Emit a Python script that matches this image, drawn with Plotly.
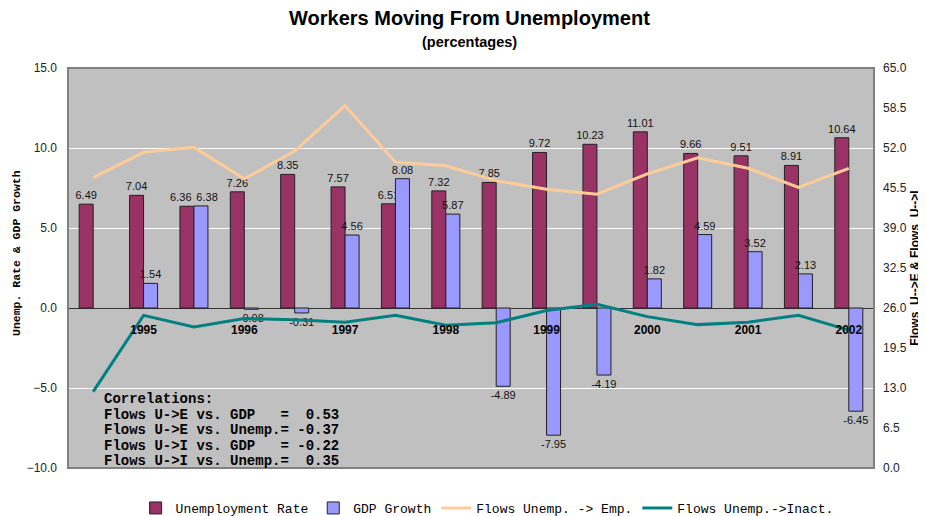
import plotly.graph_objects as go

# ---- data ----
unemployment_rate = [6.49, 7.04, 6.36, 7.26, 8.35, 7.57, 6.51, 7.32,
                     7.85, 9.72, 10.23, 11.01, 9.66, 9.51, 8.91, 10.64]
gdp_growth = [None, 1.54, 6.38, -0.08, -0.31, 4.56, 8.08, 5.87,
              -4.89, -7.95, -4.19, 1.82, 4.59, 3.52, 2.13, -6.45]
flows_u_to_e = [47.2, 51.3, 52.1, 47.0, 51.5, 58.9, 49.7, 49.1,
                46.7, 45.3, 44.5, 47.8, 50.4, 48.7, 45.6, 48.7]
flows_u_to_i = [12.4, 24.8, 22.9, 24.3, 24.1, 23.7, 24.8, 23.2,
                23.6, 25.6, 26.6, 24.6, 23.3, 23.7, 24.8, 22.4]
period_index = list(range(len(unemployment_rate)))
year_labels = ["1995", "1996", "1997", "1998", "1999", "2000", "2001", "2002"]
year_tick_index = [1, 3, 5, 7, 9, 11, 13, 15]
correlation_lines = [
    "Correlations:",
    "Flows U->E vs. GDP   =  0.53",
    "Flows U->E vs. Unemp.= -0.37",
    "Flows U->I vs. GDP   = -0.22",
    "Flows U->I vs. Unemp.=  0.35",
]

MONO = "Courier New, Liberation Mono, monospace"
SANS = "Arial, Liberation Sans, sans-serif"
NB = "\u00a0" * 4

# value labels; when two neighbouring labels sit at nearly the same height,
# nudge them apart (as the original chart does) by padding with spaces
unemp_text, gdp_text = [], []
for u, g in zip(unemployment_rate, gdp_growth):
    close = g is not None and g > 0 and abs(u - g) < 0.5
    unemp_text.append(f"{u:.2f}" + (NB if close else ""))
    gdp_text.append("" if g is None else (NB if close else "") + f"{g:.2f}")

fig = go.Figure()
fig.add_trace(go.Bar(
    x=period_index, y=unemployment_rate, name="Unemployment Rate",
    marker=dict(color="#993366", line=dict(color="#222222", width=1)),
    text=unemp_text, texttemplate="%{text}", textposition="outside",
    constraintext="none", hoverinfo="x+y",
    textfont=dict(family=SANS, size=11, color="#111111"), cliponaxis=False,
))
fig.add_trace(go.Bar(
    x=period_index, y=gdp_growth, name="GDP Growth",
    marker=dict(color="#9999FF", line=dict(color="#222222", width=1)),
    text=gdp_text, texttemplate="%{text}", textposition="outside",
    constraintext="none", hoverinfo="x+y",
    textfont=dict(family=SANS, size=11, color="#111111"), cliponaxis=False,
))
fig.add_trace(go.Scatter(
    x=period_index, y=flows_u_to_e, name="Flows Unemp. -> Emp.", yaxis="y2",
    mode="lines", line=dict(color="#FFCC99", width=3),
))
fig.add_trace(go.Scatter(
    x=period_index, y=flows_u_to_i, name="Flows Unemp.->Inact.", yaxis="y2",
    mode="lines", line=dict(color="#008080", width=3),
))

annotations = [
    dict(text="<b>Workers Moving From Unemployment</b>", xref="paper", yref="paper",
         x=0.498, y=1.125, xanchor="center", yanchor="middle", showarrow=False,
         font=dict(family=SANS, size=20, color="#000000")),
    dict(text="<b>(percentages)</b>", xref="paper", yref="paper",
         x=0.498, y=1.065, xanchor="center", yanchor="middle", showarrow=False,
         font=dict(family=SANS, size=14.5, color="#000000")),
    dict(text="<b>Unemp. Rate & GDP Growth</b>", xref="paper", yref="paper",
         x=-0.0645, y=0.5375, xanchor="center", yanchor="middle", textangle=-90,
         showarrow=False, font=dict(family=MONO, size=11.5, color="#000000")),
    dict(text="<b>Flows  U-->E & Flows  U-->I</b>", xref="paper", yref="paper",
         x=1.0505, y=0.5, xanchor="center", yanchor="middle", textangle=-90,
         showarrow=False, font=dict(family=SANS, size=12, color="#000000")),
]
line_y = [0.1725, 0.13375, 0.095, 0.05625, 0.0175]
for txt, yy in zip(correlation_lines, line_y):
    annotations.append(dict(
        text="<b>" + txt.replace(" ", "\u00a0") + "</b>", xref="paper", yref="paper",
        x=0.0418, y=yy, xanchor="left", yanchor="middle", showarrow=False,
        font=dict(family=MONO, size=14, color="#000000")))

# page body has an 8px margin, so the figure is 8px smaller than the window
fig.update_layout(
    width=918, height=508,
    margin=dict(l=60, r=52, t=60, b=48, autoexpand=False),
    paper_bgcolor="#FFFFFF", plot_bgcolor="#C0C0C0",
    barmode="group", bargap=0.444, bargroupgap=0,
    showlegend=True,
    legend=dict(orientation="h", x=0.52, xanchor="center", y=-0.1, yanchor="middle",
                font=dict(family=MONO, size=13, color="#000000"),
                bgcolor="rgba(0,0,0,0)", traceorder="normal", itemwidth=30),
    xaxis=dict(range=[-0.5, 15.5], anchor="free", position=0.4,
               tickvals=year_tick_index, ticktext=year_labels,
               tickfont=dict(family=SANS, size=12, color="#000000", weight="bold"),
               ticks="", ticklabelstandoff=13, showgrid=False, zeroline=False,
               showline=False),
    yaxis=dict(range=[-10, 15], dtick=5, tickformat=".1f",
               tickfont=dict(family=SANS, size=12, color="#222222"),
               gridcolor="#FFFFFF", gridwidth=1,
               zeroline=True, zerolinecolor="#333333", zerolinewidth=1,
               showline=False, ticks="", ticklabelstandoff=10),
    yaxis2=dict(range=[0, 65], dtick=6.5, tickformat=".1f", overlaying="y",
                side="right", showgrid=False, zeroline=False, showline=False,
                tickfont=dict(family=SANS, size=12, color="#222222"),
                ticks="", ticklabelstandoff=8),
    shapes=[dict(type="rect", xref="paper", yref="paper", x0=0, x1=1, y0=0, y1=1,
                 line=dict(color="#808080", width=2), layer="above")],
    annotations=annotations,
)

fig.write_html("out.html")
